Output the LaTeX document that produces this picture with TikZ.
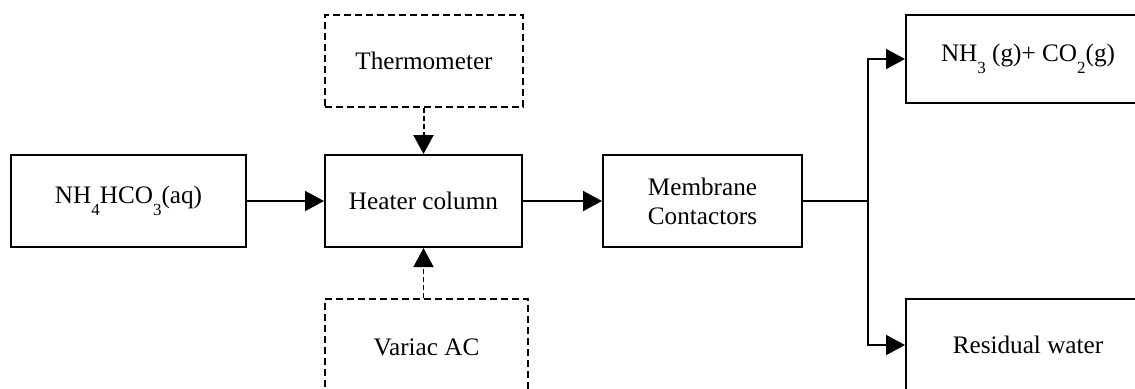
\documentclass[tikz,border=0pt]{standalone}
\usepackage{fontspec}
\setmainfont{Liberation Serif}
\usetikzlibrary{arrows.meta,positioning}
\newcommand{\chsub}[1]{\raisebox{-0.5em}{\fontsize{8.5}{9}\selectfont #1}}

\begin{document}
\begin{tikzpicture}[x=0.5pt,y=-0.5pt,
            box/.style={draw, rectangle, line width=1pt, minimum height=46pt, align=center,
                 font=\fontsize{12.6}{14.5}\selectfont},
            sensor/.style={box, dash pattern=on 3.5pt off 2pt},
            flow/.style={-{Triangle[length=9.5pt,width=10pt]}, line width=1pt}
            ]
            \useasboundingbox (0,0) rectangle (1135,388);

            % Nodes with manual coordinates
            \node[box, minimum width=117.5pt] (feed) at (128.5,201) {NH\chsub{4}HCO\chsub{3}(aq)};
            \node[box, minimum width=98.5pt] (heater) at (423.5,201) {Heater column};
            \node[sensor, minimum width=99pt] (thermo) at (424,61) {Thermometer};
            \node[sensor, minimum width=101.5pt, minimum height=48pt] (variac) at (426.5,347) {Variac AC};
            \node[box, minimum width=99.5pt] (membrane) at (702.5,201) {Membrane\\Contactors};
            \node[box, minimum width=122pt, minimum height=44pt] (gas) at (1028,59) {NH\chsub{3} (g)+ CO\chsub{2}(g)};
            \node[box, minimum width=122pt] (water) at (1028,345) {Residual water};
            \coordinate (split) at (868,201);

            % Arrows
            \draw[flow] (feed.east) -- (heater.west);
            \draw[flow] (heater.east) -- (membrane.west);
            \draw[flow][dash pattern=on 2.5pt off 1.5pt] (thermo.south -| heater.north) -- (heater.north);
            \draw[flow][line width=0.7pt, dash pattern=on 2.5pt off 1.5pt] (variac.north -| heater.south) -- (heater.south);
            \draw[line width=1pt] (membrane.east) -- (split);
            \draw[flow] (split) |- (gas.west);
            \draw[flow] (split) |- (water.west);
        \end{tikzpicture}
\end{document}
